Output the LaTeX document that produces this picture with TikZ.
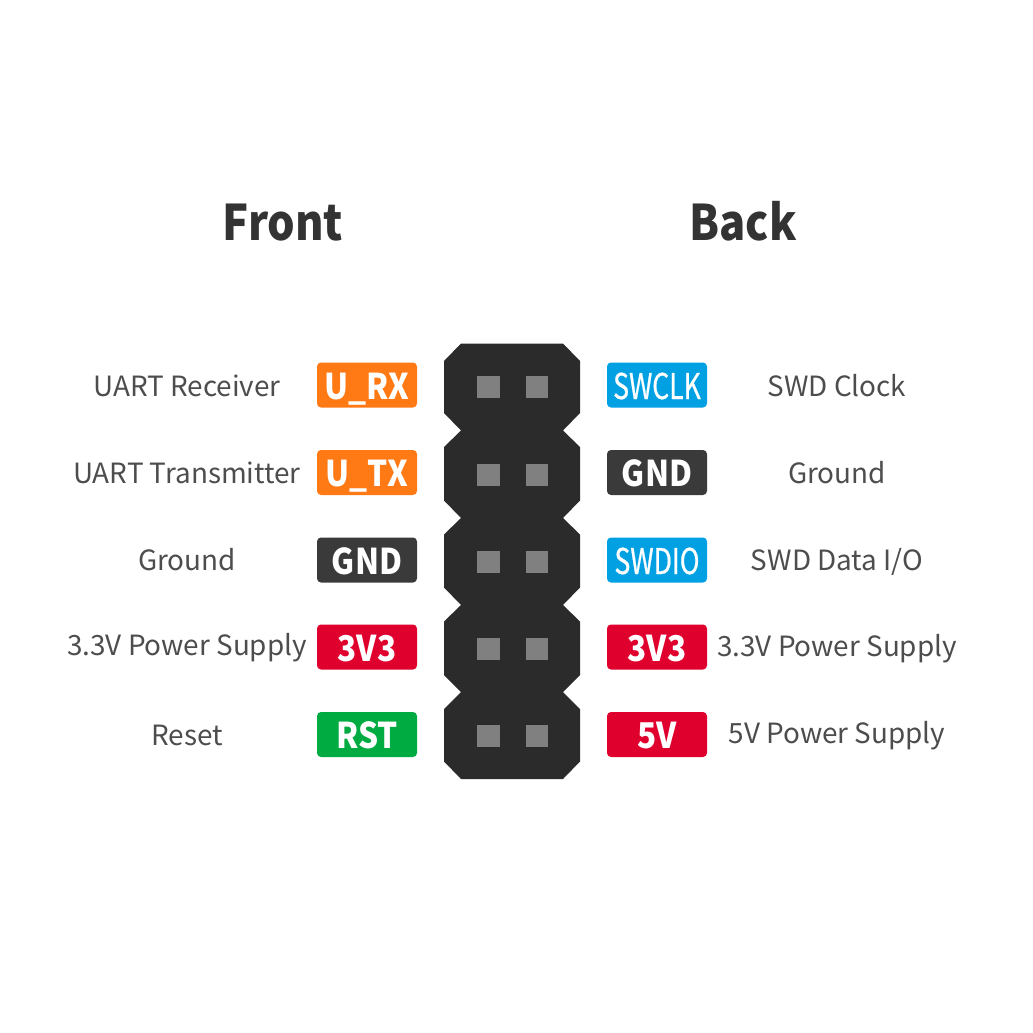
\documentclass[tikz,border=0pt]{standalone}
\usepackage{fontspec}
\setmainfont{Noto Sans CJK SC}
\newfontfamily\badgefont[FakeStretch=0.89]{Noto Sans CJK SC}
\newfontfamily\swdfont[FakeStretch=0.75,FakeBold=0.6]{Noto Sans CJK SC}
\newfontfamily\titlefont[FakeStretch=0.885]{Noto Sans CJK SC}
\usepackage{tikz}

\definecolor{housing}{RGB}{43,43,43}
\definecolor{pinsquare}{RGB}{128,128,128}
\definecolor{uartorange}{RGB}{255,122,21}
\definecolor{swdblue}{RGB}{0,160,227}
\definecolor{gnddark}{RGB}{58,58,58}
\definecolor{powerred}{RGB}{224,0,45}
\definecolor{resetgreen}{RGB}{0,172,66}
\definecolor{labelgrey}{RGB}{77,77,77}
\definecolor{titlegrey}{RGB}{51,51,51}

\tikzset{
  title/.style={anchor=base,inner sep=0pt,text=titlegrey,font=\titlefont\fontsize{36.8}{40}\bfseries\selectfont},
  pinlabel/.style={anchor=base,inner sep=0pt,text=labelgrey,font=\fontsize{20.9}{24}\selectfont},
  badge/.style={fill=#1,rounded corners=3pt,minimum width=75pt,minimum height=33.75pt,inner sep=0pt,text height=21pt,text depth=0pt,text=white,font=\badgefont\fontsize{26.6}{30}\bfseries\selectfont},
  swdbadge/.style={badge=swdblue,font=\swdfont\fontsize{26.6}{30}\selectfont},
  pin/.style={fill=pinsquare,draw=none}
}

\begin{document}
\begin{tikzpicture}[x=0.75pt,y=0.75pt,yscale=-1,xscale=1]
\useasboundingbox (0,0) rectangle (1033,1033);

%Shape: Polygon [housing]
\fill [housing] (461,343.5) -- (563,343.5) -- (580,361) -- (580,413) -- (563,430.5) -- (580,447) -- (580,500.5) -- (563,518) -- (580,534.5) -- (580,587.5) -- (563,605) -- (580,621.5) -- (580,675) -- (563,692) -- (580,709) -- (580,761.5) -- (563,779) -- (461,779) -- (444,761.5) -- (444,709) -- (461,692) -- (444,675) -- (444,621.5) -- (461,605) -- (444,587.5) -- (444,534.5) -- (461,518) -- (444,500.5) -- (444,447) -- (461,430.5) -- (444,413) -- (444,361) -- cycle ;

%Shape: Square [pins]
\fill [pin] (477,376) rectangle (500,398) ;
\fill [pin] (526,376) rectangle (548,398) ;
\fill [pin] (477,463.5) rectangle (500,485.5) ;
\fill [pin] (526,463.5) rectangle (548,485.5) ;
\fill [pin] (477,550.5) rectangle (500,572.5) ;
\fill [pin] (526,550.5) rectangle (548,572.5) ;
\fill [pin] (477,638) rectangle (500,660) ;
\fill [pin] (526,638) rectangle (548,660) ;
\fill [pin] (477,725) rectangle (500,747) ;
\fill [pin] (526,725) rectangle (548,747) ;

% Text Node
\node (front) at (283,240) [title] {Front};
\node (back) at (743,240) [title] {Back};

% Text Node
\node (urx) at (367,385) [badge=uartorange] {U\_RX};
\node (utx) at (367,472.5) [badge=uartorange] {U\_TX};
\node (gndl) at (367,560) [badge=gnddark] {GND};
\node (vl) at (367,647) [badge=powerred] {3V3};
\node (rst) at (367,734.5) [badge=resetgreen] {RST};
\node (swclk) at (657,385) [swdbadge] {SWCLK};
\node (gndr) at (657,472.5) [badge=gnddark] {GND};
\node (swdio) at (657,560) [swdbadge] {SWDIO};
\node (vr) at (657,647) [badge=powerred] {3V3};
\node (fivev) at (657,734.5) [badge=powerred] {5V};

% Text Node
\node (receiver) at (187,396) [pinlabel] {UART Receiver};
\node (transmitter) at (187,483) [pinlabel] {UART Transmitter};
\node (groundl) at (187,570) [pinlabel] {Ground};
\node (supplyl) at (187,655) [pinlabel] {3.3V Power Supply};
\node (reset) at (187,745) [pinlabel] {Reset};
\node (clock) at (837,396) [pinlabel] {SWD Clock};
\node (groundr) at (837,483) [pinlabel] {Ground};
\node (dataio) at (837,570) [pinlabel] {SWD Data I/O};
\node (supplyr) at (837,656) [pinlabel] {3.3V Power Supply};
\node (fivesupply) at (837,743) [pinlabel] {5V Power Supply};
\end{tikzpicture}
\end{document}
